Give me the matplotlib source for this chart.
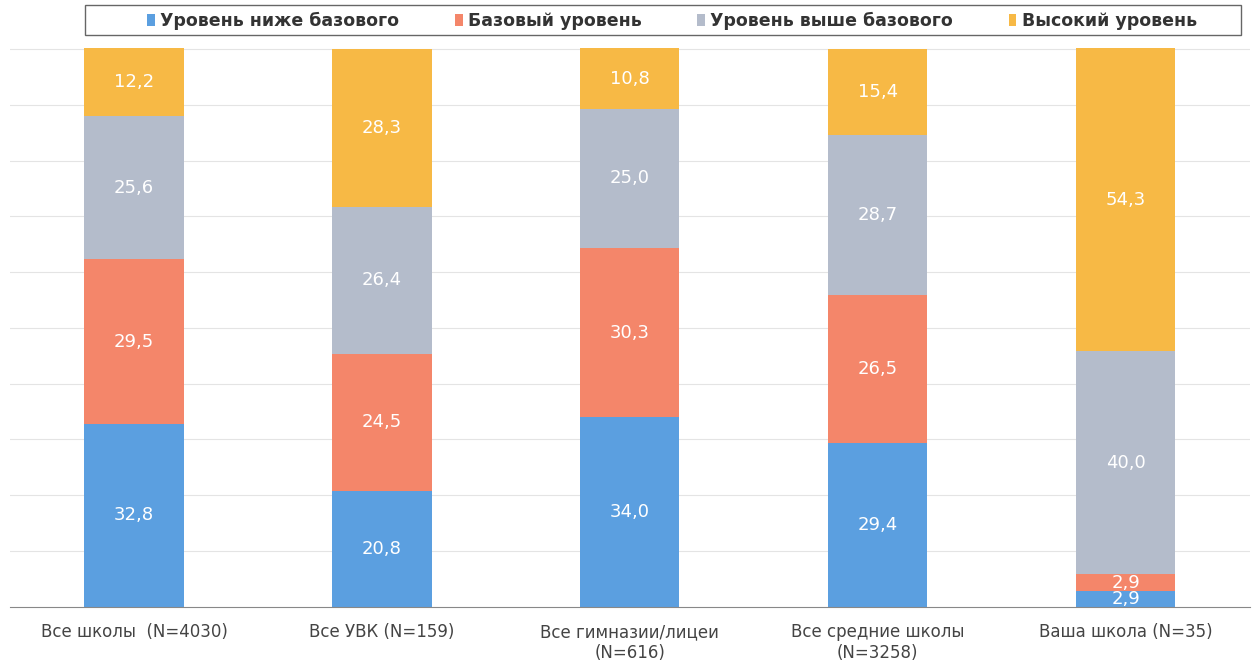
#!/usr/bin/env python3
# Stacked 100% bars: reading literacy levels by school type
import matplotlib.pyplot as plt
from matplotlib.patches import Rectangle
import numpy as np

categories = ["Все школы  (N=4030)", "Все УВК (N=159)", "Все гимназии/лицеи\n(N=616)",
              "Все средние школы\n(N=3258)", "Ваша школа (N=35)"]
levels = ["Уровень ниже базового", "Базовый уровень", "Уровень выше базового", "Высокий уровень"]
below_basic = [32.8, 20.8, 34.0, 29.4, 2.9]
basic = [29.5, 24.5, 30.3, 26.5, 2.9]
above_basic = [25.6, 26.4, 25.0, 28.7, 40.0]
high = [12.2, 28.3, 10.8, 15.4, 54.3]
colors = ["#5b9fe0", "#f4866a", "#b4bccb", "#f7b945"]

series = [below_basic, basic, above_basic, high]

fig = plt.figure(figsize=(12.56, 6.69), dpi=100)
ax = fig.add_axes([0.008, 0.093, 0.987, 0.838])

x = np.arange(len(categories))
bottom = np.zeros(len(categories))
for vals, name, col in zip(series, levels, colors):
    vals = np.array(vals)
    ax.bar(x, vals, 0.4, bottom=bottom, color=col, label=name, zorder=2)
    for xi, b, v in zip(x, bottom, vals):
        ax.text(xi, b + v / 2, f"{v:.1f}".replace(".", ","), ha="center", va="center",
                color="white", fontsize=13, zorder=3)
    bottom += vals

ax.set_xlim(-0.5, len(categories) - 0.5)
ax.set_ylim(0, 100.5)
ax.set_yticks(np.arange(10, 101, 10))
ax.set_yticklabels([])
ax.tick_params(axis="y", length=0)
ax.tick_params(axis="x", length=0, pad=12)
ax.grid(axis="y", color="#e4e4e4", linewidth=0.8, zorder=0)
ax.set_xticks(x)
ax.set_xticklabels(categories, fontsize=12, color="#444444")
for s in ["top", "right", "left"]:
    ax.spines[s].set_visible(False)
ax.spines["bottom"].set_color("#888888")

# legend box across the top, entries sit inside with some margin
fig.patches.append(Rectangle((0.068, 0.947), 0.92, 0.045, transform=fig.transFigure,
                             fill=False, edgecolor="#666666", linewidth=1))
leg = fig.legend(loc="center", bbox_to_anchor=(0.535, 0.969), ncol=4, fontsize=12.5,
                 frameon=False, handlelength=0.45, handleheight=0.7, handletextpad=0.3,
                 columnspacing=3.2, borderpad=0, borderaxespad=0)
for t in leg.get_texts():
    t.set_fontweight("bold")
    t.set_color("#333333")

fig.savefig("out.png", dpi=100)
